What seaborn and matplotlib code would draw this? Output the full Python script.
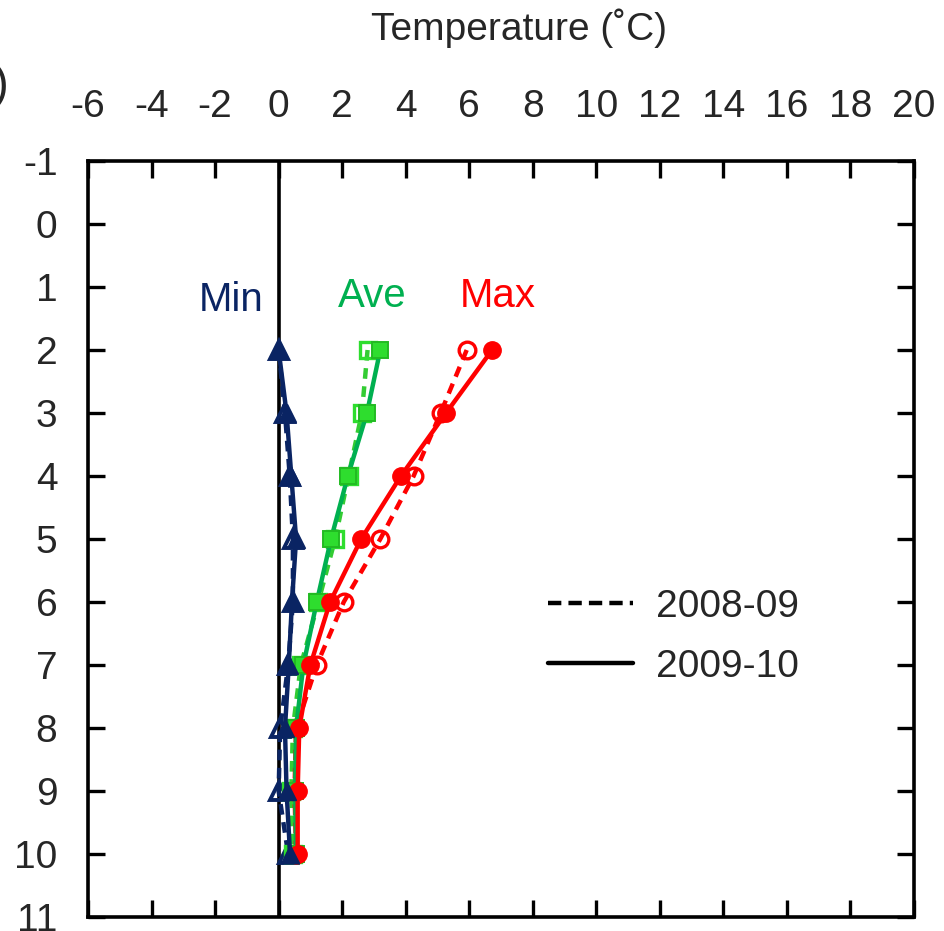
import matplotlib
matplotlib.use("Agg")
import matplotlib.pyplot as plt
import seaborn as sns
from matplotlib.lines import Line2D

# ---- data ----
depth = [2, 3, 4, 5, 6, 7, 8, 9, 10]
min_0809 = [0.0, 0.2, 0.35, 0.45, 0.45, 0.3, 0.05, 0.0, 0.3]
min_0910 = [0.0, 0.25, 0.4, 0.55, 0.42, 0.32, 0.2, 0.25, 0.36]
ave_0809 = [2.8, 2.62, 2.2, 1.78, 1.25, 0.7, 0.45, 0.4, 0.45]
ave_0910 = [3.2, 2.78, 2.18, 1.65, 1.2, 0.78, 0.55, 0.52, 0.55]
max_0809 = [5.92, 5.1, 4.25, 3.2, 2.05, 1.2, 0.55, 0.5, 0.55]
max_0910 = [6.72, 5.27, 3.85, 2.6, 1.62, 1.0, 0.65, 0.6, 0.6]
x_ticks = list(range(-6, 21, 2))
y_ticks = list(range(-1, 12))
legend_labels = ["2008-09", "2009-10"]
series_labels = ["Min", "Ave", "Max"]

sns.set_style("white")
plt.rcParams["font.family"] = ["Liberation Sans", "DejaVu Sans"]

NAVY = "#0A2463"
GREEN = "#00B050"
LGREEN = "#33CC33"
FILLG = "#2EDD2E"
RED = "#FF0000"

fig = plt.figure(figsize=(9.45, 9.31), dpi=100)
ax = fig.add_axes([88 / 945, 1 - 917 / 931, (914 - 88) / 945, (917 - 161) / 931])

ax.axvline(0, color="black", lw=2.6, zorder=1)

lw = 3.2
dash = (2.4, 1.7)

def draw(x, color, marker, ms, mfc, mec, mew, dashed, z):
    kw = dict(x=x, y=depth, orient="y", sort=False, ax=ax, color=color, lw=lw,
              marker=marker, markersize=ms, markerfacecolor=mfc,
              markeredgecolor=mec, markeredgewidth=mew, zorder=z, estimator=None)
    if dashed:
        kw["linestyle"] = "--"
    sns.lineplot(**kw)
    if dashed:
        ax.lines[-1].set_dashes(dash)

# 2008-09 (dashed, open markers)
draw(min_0809, NAVY, "^", 12.5, "none", NAVY, 2.8, True, 3)
draw(ave_0809, LGREEN, "s", 12, "none", FILLG, 2.4, True, 3)
draw(max_0809, RED, "o", 12, "none", RED, 2.4, True, 3)
# 2009-10 (solid, filled markers)
draw(ave_0910, GREEN, "s", 12, FILLG, "#22BB22", 1.4, False, 4)
draw(max_0910, RED, "o", 12.5, RED, RED, 1.0, False, 4)
draw(min_0910, NAVY, "^", 13, NAVY, NAVY, 1.0, False, 5)

ax.set_xlim(-6, 20)
ax.set_ylim(11, -1)
ax.set_xticks(x_ticks)
ax.set_yticks(y_ticks)
ax.set_xticklabels([str(v) for v in x_ticks])
ax.set_yticklabels([str(v) for v in y_ticks])
ax.set_xlabel("")
ax.set_ylabel("")

ax.tick_params(axis="x", which="both", direction="in", top=True, bottom=True,
               labeltop=True, labelbottom=False, length=12, width=2.4,
               labelsize=28, pad=26, color="black")
ax.tick_params(axis="y", which="both", direction="in", left=True, right=True,
               labelleft=True, labelright=False, length=12, width=2.4,
               labelsize=28, pad=22, color="black")
for s in ax.spines.values():
    s.set_visible(True)
    s.set_linewidth(2.6)
    s.set_color("black")

# series labels
ax.text(-1.5, 1.2, series_labels[0], color=NAVY, fontsize=29, ha="center", va="center")
ax.text(2.95, 1.15, series_labels[1], color=GREEN, fontsize=29, ha="center", va="center")
ax.text(6.9, 1.15, series_labels[2], color=RED, fontsize=29, ha="center", va="center")

# legend
handles = [Line2D([], [], color="black", lw=3.2, linestyle=(0, (3.0, 1.6))),
           Line2D([], [], color="black", lw=3.2)]
leg = ax.legend(handles, legend_labels, loc="center left",
                bbox_to_anchor=((548 - 88) / 826, (917 - 637) / 756),
                frameon=False, fontsize=28, handlelength=2.19, handletextpad=0.6,
                labelspacing=0.62, borderpad=0, borderaxespad=0)

fig.text(519 / 945, 1 - 28 / 931, "Temperature (\u02daC)", fontsize=28,
         ha="center", va="center")
fig.text(9 / 945, 1 - 86 / 931, "Depth (m)", fontsize=34, ha="right", va="center")

fig.savefig("out.png", dpi=100)
